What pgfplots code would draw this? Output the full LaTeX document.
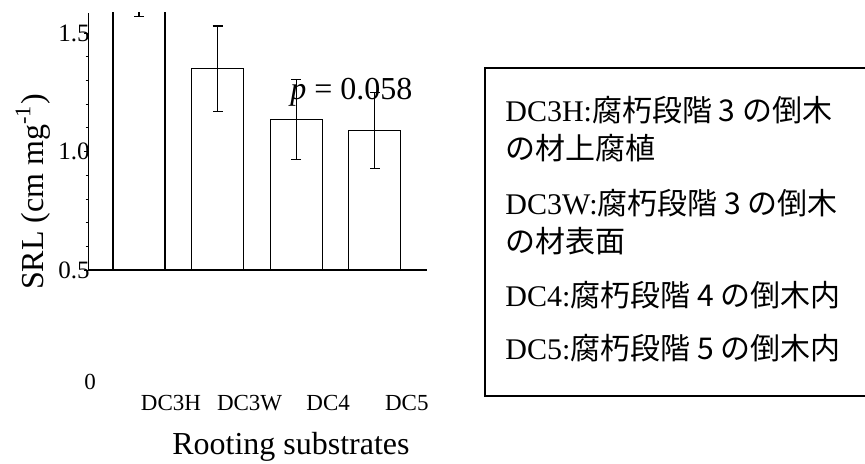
\documentclass[border=0pt]{standalone}
\usepackage{pgfplots}
\usepackage{pgfplotstable}
\pgfplotsset{compat=1.18}
\usepackage{fontspec}
\setmainfont{Liberation Serif}
\newfontfamily\cjk{Noto Sans CJK JP}
\pgfplotstableread{
x y err
0 1.75 0.18
1 1.35 0.18
2 1.135 0.17
3 1.09 0.16
}\srl
\begin{document}
\begin{tikzpicture}[x=1pt,y=1pt]
\useasboundingbox (0,0) rectangle (432.5,232);
\begin{axis}[
  at={(44pt,97pt)}, anchor=south west,
  scale only axis, width=169.5pt, height=128.5pt,
  xmin=-0.649, xmax=3.664, ymin=0.5, ymax=1.585,
  axis lines*=left,
  x axis line style={line width=0.9pt, -},
  y axis line style={line width=0.5pt, -},
  xtick={0,1,2,3}, xticklabels={DC3H,DC3W,DC4,DC5},
  x tick style={draw=none},
  xticklabel style={anchor=base, inner sep=0pt, font=\fontsize{11.5}{13}\selectfont, xshift=16pt, yshift=-68.5pt},
  ytick={0.5,1.0,1.5}, yticklabels={0.5,1.0,1.5},
  minor y tick num=4,
  tick align=outside, major tick length=2pt, minor tick length=1.2pt,
  y tick style={line width=0.4pt, black},
  yticklabel style={anchor=east, inner sep=0pt, xshift=3pt, font=\fontsize{12.5}{14}\selectfont},
  /pgf/number format/assume math mode=true,
  ylabel={SRL (cm mg\textsuperscript{-1})},
  ylabel style={at={(axis description cs:-0.1327,0.3035)}, anchor=base, inner sep=0pt, font=\fontsize{16}{19}\selectfont},
  xlabel={Rooting substrates},
  xlabel style={at={(axis description cs:0.5988,-0.7198)}, anchor=base, inner sep=0pt, font=\fontsize{16}{19}\selectfont},
  clip=true,
]
\addplot[ybar, bar width=26pt, fill=white, draw=black, line width=0.6pt,
  error bars/.cd, y dir=both, y explicit,
  error bar style={line width=0.6pt, black},
  error mark options={line width=0.6pt, black, mark size=2.5pt, rotate=90}]
  table[x=x, y=y, y error=err]{\srl};
\end{axis}
\node[anchor=base west, inner sep=0pt, font=\fontsize{16}{19}\selectfont] at (145,182) {\textit{p} = 0.058};
\node[anchor=base, inner sep=0pt, font=\fontsize{11.5}{13}\selectfont] at (45,37.3) {0};
\draw[line width=0.9pt] (242.5,34) rectangle (434,198);
\begin{scope}[every node/.style={anchor=base west, inner sep=0pt, font=\fontsize{15}{18}\selectfont}]
\node at (252.5,171) {DC3H:{\cjk 腐朽段階 3 の倒木}};
\node at (252.5,152) {{\cjk の材上腐植}};
\node at (252.5,124.5) {DC3W:{\cjk 腐朽段階 3 の倒木}};
\node at (252.5,105.5) {{\cjk の材表面}};
\node at (252.5,78.5) {DC4:{\cjk 腐朽段階 4 の倒木内}};
\node at (252.5,52) {DC5:{\cjk 腐朽段階 5 の倒木内}};
\end{scope}
\end{tikzpicture}
\end{document}
